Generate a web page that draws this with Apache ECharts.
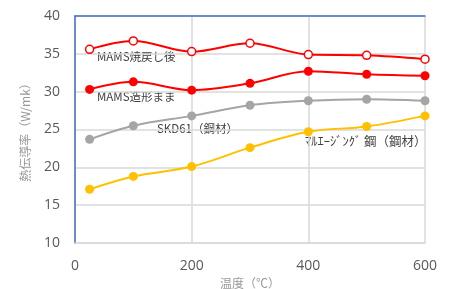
<!DOCTYPE html>
<html>
<head>
<meta charset="utf-8">
<script src="https://cdn.jsdelivr.net/npm/echarts@6/dist/echarts.min.js"></script>
<style>
  html, body { margin: 0; padding: 0; background: #fff; }
  #chart { width: 452px; height: 289px; }
</style>
</head>
<body>
<div id="chart"></div>
<script>
// 温度（℃）
const temps = [25, 100, 200, 300, 400, 500, 600];
// 熱伝導率 (W/mk)
const mamsTempered = [35.6, 36.7, 35.3, 36.4, 34.9, 34.8, 34.3];
const mamsAsBuilt = [30.3, 31.3, 30.2, 31.1, 32.7, 32.3, 32.1];
const skd61 = [23.7, 25.5, 26.8, 28.2, 28.8, 29.0, 28.8];
const maraging = [17.1, 18.8, 20.1, 22.6, 24.7, 25.4, 26.8];

const seriesNames = ["MAMS焼戻し後", "MAMS造形まま", "SKD61（鋼材）", "ﾏﾙｴｰｼﾞﾝｸﾞ 鋼（鋼材）"];

const pairs = (ys) => temps.map((t, i) => [t, ys[i]]);

const font = "'Noto Sans CJK JP', 'Open Sans', sans-serif";

const chart = echarts.init(document.getElementById("chart"));

const lineSeries = (name, data, color, hollow) => ({
  name: name,
  type: "line",
  data: pairs(data),
  smooth: 0.35,
  symbol: "circle",
  symbolSize: hollow ? 8 : 9,
  itemStyle: hollow
    ? { color: "#fff", borderColor: color, borderWidth: 1.5 }
    : { color: color },
  lineStyle: { color: color, width: 2 },
  z: 3,
});

const labelText = (x, y, text, size) => ({
  type: "text",
  left: x,
  top: y,
  style: { text: text, fill: "#404040", font: size + "px " + font },
});

chart.setOption({
  animation: false,
  backgroundColor: "#fff",
  textStyle: { fontFamily: font },
  grid: { left: 75, right: 27, top: 16, bottom: 46, outerBoundsMode: "none", containLabel: false },
  xAxis: [
    {
      type: "value",
      min: 0,
      max: 600,
      interval: 200,
      name: "温度（℃）",
      nameLocation: "middle",
      nameGap: 34,
      nameTextStyle: { color: "#999", fontSize: 12, fontFamily: font },
      axisLine: { show: true, lineStyle: { color: "#d9d9d9", width: 1.5 } },
      axisTick: { show: false },
      axisLabel: { color: "#595959", fontSize: 14, margin: 16, fontFamily: "'Open Sans', sans-serif" },
      splitLine: { show: true, lineStyle: { color: "#d9d9d9", width: 1.5 } },
    },
    {
      type: "value",
      position: "top",
      min: 0,
      max: 600,
      axisLine: { show: true, lineStyle: { color: "#4472c4", width: 1.5 } },
      axisTick: { show: false },
      axisLabel: { show: false },
      splitLine: { show: false },
    },
  ],
  yAxis: [
    {
      type: "value",
      min: 10,
      max: 40,
      interval: 5,
      name: "熱伝導率（W/mk）",
      nameLocation: "middle",
      nameGap: 44,
      nameTextStyle: { color: "#999", fontSize: 12, fontFamily: font },
      axisLine: { show: true, lineStyle: { color: "#d9d9d9", width: 1.5 } },
      axisTick: { show: false },
      axisLabel: { color: "#595959", fontSize: 14, margin: 15, fontFamily: "'Open Sans', sans-serif" },
      splitLine: { show: true, lineStyle: { color: "#d9d9d9", width: 1.5 } },
    },
    {
      type: "value",
      position: "right",
      min: 10,
      max: 40,
      axisLine: { show: true, lineStyle: { color: "#4472c4", width: 1.5 } },
      axisTick: { show: false },
      axisLabel: { show: false },
      splitLine: { show: false },
    },
  ],
  series: [
    lineSeries(seriesNames[0], mamsTempered, "#ff0000", true),
    lineSeries(seriesNames[1], mamsAsBuilt, "#ff0000", false),
    lineSeries(seriesNames[2], skd61, "#a5a5a5", false),
    lineSeries(seriesNames[3], maraging, "#ffc000", false),
  ],
  graphic: [
    labelText(97, 51, seriesNames[0], 11.5),
    labelText(97, 91, seriesNames[1], 11.5),
    labelText(157, 123, seriesNames[2], 11.5),
    labelText(305, 135, seriesNames[3], 12.5),
  ],
});
</script>
</body>
</html>
